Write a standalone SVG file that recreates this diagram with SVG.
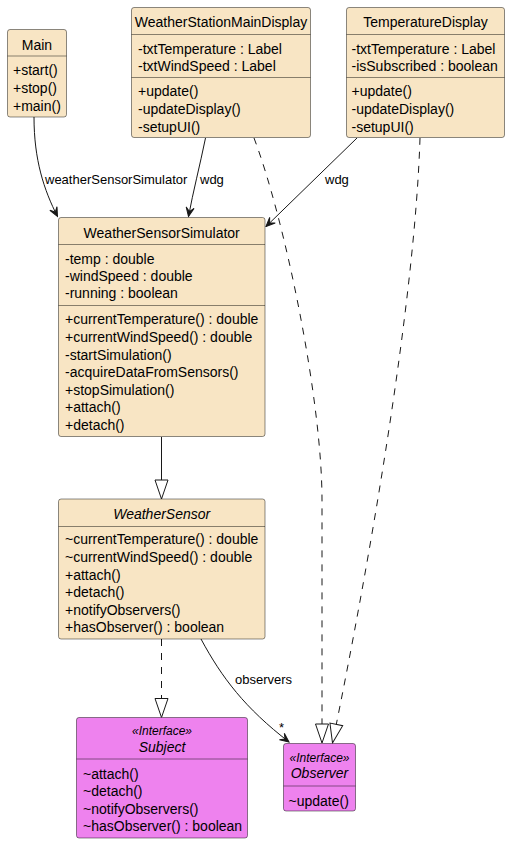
<svg xmlns="http://www.w3.org/2000/svg" width="510" height="844" viewBox="0 0 510 844">
<style>
text{font-family:"Liberation Sans",Arial,sans-serif;fill:#000}
.t{font-size:14px;text-anchor:middle}
.m{font-size:14px}
.i{font-style:italic}
.st{font-size:12px;font-style:italic;text-anchor:middle}
.lbl{font-size:13px}
.box{fill:#F8E5C4;stroke:#000;stroke-opacity:0.45;stroke-width:1}
.ibox{fill:#EE82EE;stroke:#000;stroke-opacity:0.45;stroke-width:1}
.div{stroke:#000;stroke-opacity:0.45;stroke-width:1}
.c{fill:none;stroke:#181818;stroke-width:1}
.d{stroke-dasharray:7,7}
</style>
<defs>
<marker id="arr" markerUnits="userSpaceOnUse" viewBox="-10 -5 11 10" refX="0" refY="0" markerWidth="11" markerHeight="10" orient="auto">
<path d="M0,0 L-9,-4 L-5,0 L-9,4 Z" fill="#181818" stroke="#181818" stroke-width="1"/>
</marker>
<marker id="tri" markerUnits="userSpaceOnUse" viewBox="-20 -8 21 16" refX="0" refY="0" markerWidth="21" markerHeight="16" orient="auto">
<path d="M0,0 L-19,-6.5 L-19,6.5 Z" fill="#fff" stroke="#181818" stroke-width="1"/>
</marker>
</defs>

<g id="connectors">
<path class="c" d="M34,117 C34,160 44,190 57.5,216.5" marker-end="url(#arr)"/>
<path class="c" d="M205.5,138 C200,165 193,192 188.5,216.5" marker-end="url(#arr)"/>
<path class="c" d="M357,138 L266,226.5" marker-end="url(#arr)"/>
<path class="c" d="M161.5,437 L161.5,499" marker-end="url(#tri)"/>
<path class="c d" d="M161.5,639 L161.5,717.5" marker-end="url(#tri)"/>
<path class="c" d="M201,639 C222,678 245,708 289,742" marker-end="url(#arr)"/>
<path class="c d" d="M254,138 C285,220 322,400 322,500 L322,743" marker-end="url(#tri)"/>
<path class="c d" d="M420,138 C415,300 370,560 332.5,743" marker-end="url(#tri)"/>
<text class="lbl" x="45" y="183.5">weatherSensorSimulator</text>
<text class="lbl" x="200" y="183.5">wdg</text>
<text class="lbl" x="325" y="183.5">wdg</text>
<text class="lbl" x="235" y="683.5">observers</text>
<text class="lbl" x="279" y="732">*</text>
</g>

<g id="Main">
<rect class="box" x="7.5" y="29.5" width="59" height="87.5" rx="2.5"/>
<text class="t" x="37" y="50">Main</text>
<line class="div" x1="7.5" y1="56" x2="66.5" y2="56"/>
<text class="m" x="13" y="75">+start()</text>
<text class="m" x="13" y="93">+stop()</text>
<text class="m" x="13" y="110.5">+main()</text>
</g>

<g id="WeatherStationMainDisplay">
<rect class="box" x="131.5" y="7.5" width="179" height="130" rx="2.5"/>
<text class="t" x="221" y="26.5">WeatherStationMainDisplay</text>
<line class="div" x1="131.5" y1="34.5" x2="310.5" y2="34.5"/>
<text class="m" x="138" y="53.5">-txtTemperature : Label</text>
<text class="m" x="138" y="71">-txtWindSpeed : Label</text>
<line class="div" x1="131.5" y1="77.5" x2="310.5" y2="77.5"/>
<text class="m" x="138" y="95.5">+update()</text>
<text class="m" x="138" y="113.5">-updateDisplay()</text>
<text class="m" x="138" y="131.5">-setupUI()</text>
</g>

<g id="TemperatureDisplay">
<rect class="box" x="346.5" y="7.5" width="158" height="130" rx="2.5"/>
<text class="t" x="425.5" y="26.5">TemperatureDisplay</text>
<line class="div" x1="346.5" y1="34.5" x2="504.5" y2="34.5"/>
<text class="m" x="351.5" y="53.5">-txtTemperature : Label</text>
<text class="m" x="351.5" y="71">-isSubscribed : boolean</text>
<line class="div" x1="346.5" y1="77.5" x2="504.5" y2="77.5"/>
<text class="m" x="351.5" y="95.5">+update()</text>
<text class="m" x="351.5" y="113.5">-updateDisplay()</text>
<text class="m" x="351.5" y="131.5">-setupUI()</text>
</g>

<g id="WeatherSensorSimulator">
<rect class="box" x="58.5" y="217.5" width="206.5" height="219" rx="2.5"/>
<text class="t" x="161.7" y="237.5">WeatherSensorSimulator</text>
<line class="div" x1="58.5" y1="244.5" x2="265" y2="244.5"/>
<text class="m" x="65" y="263.5">-temp : double</text>
<text class="m" x="65" y="281">-windSpeed : double</text>
<text class="m" x="65" y="297.5">-running : boolean</text>
<line class="div" x1="58.5" y1="305.5" x2="265" y2="305.5"/>
<text class="m" x="65" y="324">+currentTemperature() : double</text>
<text class="m" x="65" y="342">+currentWindSpeed() : double</text>
<text class="m" x="65" y="359.5">-startSimulation()</text>
<text class="m" x="65" y="377">-acquireDataFromSensors()</text>
<text class="m" x="65" y="394.5">+stopSimulation()</text>
<text class="m" x="65" y="412">+attach()</text>
<text class="m" x="65" y="429.5">+detach()</text>
</g>

<g id="WeatherSensor">
<rect class="box" x="58.5" y="499" width="206.5" height="140" rx="2.5"/>
<text class="t i" x="161.7" y="518.5">WeatherSensor</text>
<line class="div" x1="58.5" y1="526.5" x2="265" y2="526.5"/>
<text class="m" x="65" y="544">~currentTemperature() : double</text>
<text class="m" x="65" y="562">~currentWindSpeed() : double</text>
<text class="m" x="65" y="579.5">+attach()</text>
<text class="m" x="65" y="597">+detach()</text>
<text class="m" x="65" y="614.5">+notifyObservers()</text>
<text class="m" x="65" y="632">+hasObserver() : boolean</text>
</g>

<g id="Subject">
<rect class="ibox" x="76.5" y="717.5" width="171" height="120.5" rx="2.5"/>
<text class="st" x="162" y="735">«Interface»</text>
<text class="t i" x="162" y="752">Subject</text>
<line class="div" x1="76.5" y1="759" x2="247.5" y2="759"/>
<text class="m" x="83" y="779">~attach()</text>
<text class="m" x="83" y="796">~detach()</text>
<text class="m" x="83" y="814">~notifyObservers()</text>
<text class="m" x="83" y="830.5">~hasObserver() : boolean</text>
</g>

<g id="Observer">
<rect class="ibox" x="283.5" y="743.5" width="72" height="67.5" rx="2.5"/>
<text class="st" x="319.5" y="761.5">«Interface»</text>
<text class="t i" x="319.5" y="778">Observer</text>
<line class="div" x1="283.5" y1="786" x2="355.5" y2="786"/>
<text class="m" x="288.5" y="805.5">~update()</text>
</g>
</svg>
